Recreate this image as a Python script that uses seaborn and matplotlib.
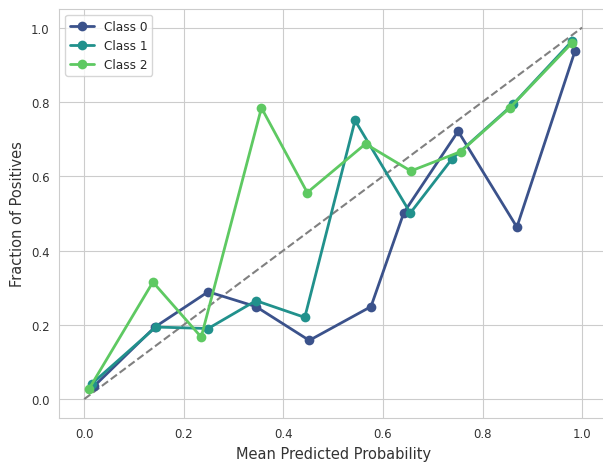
import numpy as np
import pandas as pd
import seaborn as sns
import matplotlib.pyplot as plt

# calibration curve points
class0_x = [0.020, 0.142, 0.249, 0.345, 0.452, 0.576, 0.642, 0.751, 0.869, 0.986]
class0_y = [0.035, 0.194, 0.289, 0.249, 0.158, 0.249, 0.502, 0.721, 0.463, 0.938]
class1_x = [0.015, 0.144, 0.249, 0.345, 0.443, 0.544, 0.655, 0.739, 0.861, 0.980]
class1_y = [0.041, 0.194, 0.190, 0.265, 0.220, 0.750, 0.501, 0.647, 0.793, 0.964]
class2_x = [0.009, 0.138, 0.235, 0.356, 0.448, 0.565, 0.656, 0.756, 0.855, 0.980]
class2_y = [0.026, 0.315, 0.167, 0.784, 0.556, 0.687, 0.614, 0.666, 0.784, 0.959]
class_names = ["Class 0", "Class 1", "Class 2"]

frames = []
for name, xs, ys in zip(class_names, [class0_x, class1_x, class2_x], [class0_y, class1_y, class2_y]):
    frames.append(pd.DataFrame({"x": xs, "y": ys, "Class": name}))
data = pd.concat(frames, ignore_index=True)

sns.set_style("whitegrid")
fig = plt.figure(figsize=(6.03, 4.64), dpi=100)
ax = fig.add_axes([59.3 / 603, (464 - 418.7) / 464, (607 - 59.3) / 603, (418.7 - 10) / 464])

# perfectly calibrated reference line
ax.plot([0, 1], [0, 1], linestyle="--", color="gray", linewidth=1.5, label="_nolegend_")

sns.lineplot(data=data, x="x", y="y", hue="Class", palette=sns.color_palette("viridis", 3),
             marker="o", markersize=7, markeredgewidth=0, linewidth=2, sort=False,
             errorbar=None, ax=ax)

ax.set_xlim(-0.05, 1.05)
ax.set_ylim(-0.05, 1.05)
ax.set_xticks([0.0, 0.2, 0.4, 0.6, 0.8, 1.0])
ax.set_yticks([0.0, 0.2, 0.4, 0.6, 0.8, 1.0])
ax.tick_params(labelsize=8.5, colors="#333333")
ax.set_xlabel("Mean Predicted Probability", fontsize=10.5, color="#333333")
ax.set_ylabel("Fraction of Positives", fontsize=10.5, color="#333333")
sns.move_legend(ax, "upper left", title=None, fontsize=8.7)

fig.savefig("out.png", dpi=100)
